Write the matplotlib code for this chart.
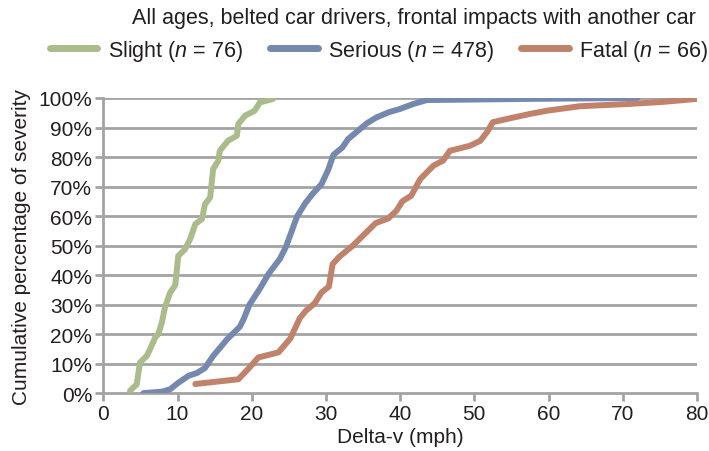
import matplotlib.pyplot as plt

# delta-v (mph) vs cumulative %
slight_x = [3.6, 4.5, 4.95, 5.85, 6.3, 7.0, 7.4, 7.9, 8.3, 9.0, 9.7, 10.1, 11.0, 11.7, 12.4,
            13.3, 13.7, 14.4, 14.8, 15.5, 15.7, 16.8, 18.0, 18.2, 19.1, 20.4, 21.1, 22.9]
slight_y = [0.8, 3.0, 10.4, 12.6, 14.9, 18.9, 20.0, 24.0, 29.0, 34.0, 36.6, 46.5, 48.7, 52.2, 57.3,
            59.0, 64.0, 66.3, 75.9, 78.8, 82.1, 85.5, 87.2, 91.2, 94.0, 95.7, 98.5, 99.7]

serious_x = [5.4, 7.9, 9.0, 10.1, 11.5, 12.6, 13.7, 14.8, 16.7, 18.4, 18.9, 19.7, 21.0, 22.3,
             23.8, 24.6, 25.0, 26.1, 27.2, 28.2, 29.4, 30.3, 31.0, 32.2, 33.0, 33.9, 35.5,
             36.8, 38.5, 40.0, 41.8, 43.6, 47.2, 57.5, 72.0]
serious_y = [0.0, 0.5, 1.3, 3.5, 5.9, 6.8, 8.5, 12.6, 18.3, 22.5, 25.0, 30.0, 35.0, 40.5,
             45.5, 49.5, 52.2, 59.8, 64.3, 67.5, 70.8, 75.6, 80.7, 83.2, 86.1, 88.0, 91.4,
             93.4, 95.2, 96.3, 98.0, 99.3, 99.4, 99.7, 100.0]

fatal_x = [12.4, 18.2, 19.6, 20.9, 23.6, 25.2, 26.5, 27.3, 28.5, 29.4, 30.4, 30.9, 31.8, 33.6,
           36.7, 38.4, 39.5, 40.3, 41.5, 42.7, 44.5, 45.8, 46.7, 49.4, 50.8, 51.7, 52.5,
           54.4, 57.5, 59.8, 64.2, 71.0, 75.5, 80.0]
fatal_y = [3.1, 4.7, 8.4, 12.1, 13.8, 18.5, 25.5, 27.9, 30.5, 34.1, 36.1, 43.7, 46.2, 49.9,
           57.6, 59.2, 61.8, 65.0, 66.9, 72.5, 77.1, 78.8, 82.1, 83.8, 85.5, 88.4, 91.8,
           92.9, 94.6, 95.7, 97.2, 98.0, 98.7, 99.7]

series_labels = ["Slight ($n$ = 76)", "Serious ($n$ = 478)", "Fatal ($n$ = 66)"]
colors = ["#abbb8c", "#7589ae", "#c1826c"]

plt.rcParams['font.family'] = ['Liberation Sans', 'DejaVu Sans']
plt.rcParams['mathtext.fontset'] = 'custom'
plt.rcParams['mathtext.it'] = 'Liberation Sans:italic'
plt.rcParams['mathtext.rm'] = 'Liberation Sans'

txt = "#231f20"
grid = "#a3a3a3"

fig = plt.figure(figsize=(7.09, 4.52), dpi=100)
ax = fig.add_axes([0.1457, 0.128, 0.8373, 0.653])

for gy in range(10, 101, 10):
    ax.axhline(gy, color=grid, lw=2.0, zorder=1)

data = [(slight_x, slight_y), (serious_x, serious_y), (fatal_x, fatal_y)]
for (xs, ys), lab, c in zip(data, series_labels, colors):
    ax.plot(xs, ys, color=c, lw=4.3, label=lab, zorder=3,
            solid_capstyle='round', solid_joinstyle='round')

ax.set_xlim(0, 80)
ax.set_ylim(0, 100)
ax.set_xticks(range(0, 81, 10))
ax.set_yticks(range(0, 101, 10))
ax.set_yticklabels([f"{v}%" for v in range(0, 101, 10)])
ax.tick_params(axis='both', colors=grid, labelcolor=txt, labelsize=15,
               length=6, width=2.0, direction='out')
ax.tick_params(axis='y', pad=2)
ax.tick_params(axis='x', pad=2)

for s in ['top', 'right']:
    ax.spines[s].set_visible(False)
for s in ['left', 'bottom']:
    ax.spines[s].set_color(grid)
    ax.spines[s].set_linewidth(2.0)

ax.set_xlabel("Delta-v (mph)", fontsize=15, color=txt, labelpad=3)
ax.set_ylabel("Cumulative percentage of severity", fontsize=15, color=txt, labelpad=5)

fig.text(0.584, 0.96, "All ages, belted car drivers, frontal impacts with another car",
         ha='center', va='center', fontsize=15.5, color=txt)

leg = fig.legend(loc='center', bbox_to_anchor=(0.535, 0.886), ncol=3, frameon=False,
                 fontsize=15.5, handlelength=2.2, handletextpad=0.5, columnspacing=1.25)
for t in leg.get_texts():
    t.set_color(txt)
for h in leg.get_lines():
    h.set_linewidth(5)

fig.savefig("out.png", dpi=100)
